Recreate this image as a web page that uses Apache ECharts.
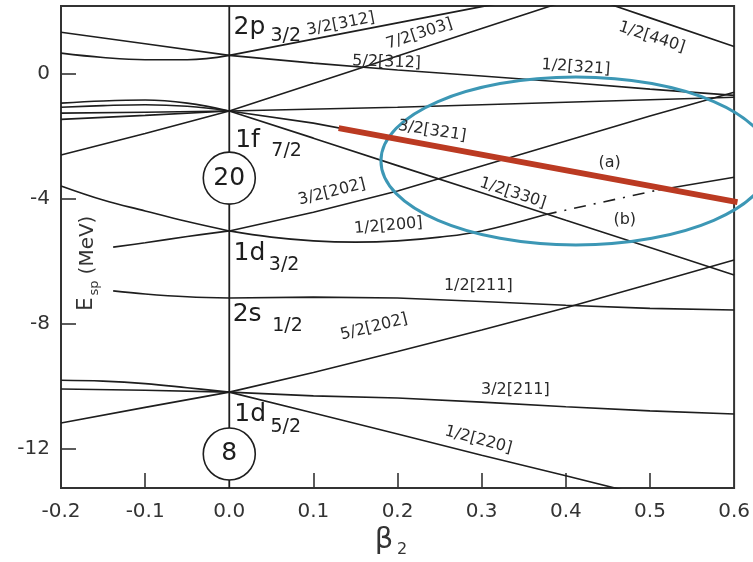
<!DOCTYPE html>
<html><head><meta charset="utf-8">
<script src="https://cdn.jsdelivr.net/npm/echarts@6/dist/echarts.min.js"></script>
<style>html,body{margin:0;padding:0;background:#fff}#c{width:753px;height:562px}</style>
</head><body><div id="c"></div>
<script>
// ---- axes ----
const BETA_MIN = -0.2, BETA_MAX = 0.6;
const E_MIN = -13.25, E_MAX = 2.18;
const xTickLabels = [-0.2, -0.1, 0.0, 0.1, 0.2, 0.3, 0.4, 0.5, 0.6];
const xInnerTicks = [-0.1, 0.1, 0.2, 0.3, 0.4, 0.5];
const yTickLabels = [-12, -8, -4, 0];

// ---- spherical levels (beta = 0) ----
const sphericalNames = ['2p', '1f', '1d', '2s', '1d'];
const sphericalSubs  = ['3/2', '7/2', '3/2', '1/2', '5/2'];
const magicNumbers = ['20', '8'];
const magicE = [-3.33, -12.16];

// ---- oblate side (beta < 0) ----
const p_obl_a = [[-0.2, 1.34], [-0.1, 0.97], [0, 0.6]];
const p_obl_b = [[-0.2, 0.67], [-0.15, 0.53], [-0.1, 0.46], [-0.05, 0.46], [0, 0.6]];
const f_obl_a = [[-0.2, -0.93], [-0.15, -0.86], [-0.1, -0.83], [-0.05, -0.93], [0, -1.18]];
const f_obl_b = [[-0.2, -1.06], [-0.15, -1.01], [-0.1, -0.98], [-0.05, -1.03], [0, -1.18]];
const f_obl_c = [[-0.2, -1.25], [-0.1, -1.22], [0, -1.18]];
const f_obl_d = [[-0.2, -1.45], [-0.1, -1.32], [0, -1.18]];
const f_obl_e = [[-0.2, -2.59], [-0.1, -1.9], [0, -1.18]];
const d3_obl_a = [[-0.138, -5.54], [-0.1, -5.4], [-0.05, -5.2], [0, -5.02]];
const d3_obl_b = [[-0.2, -3.58], [-0.15, -4.03], [-0.1, -4.38], [-0.05, -4.72], [0, -5.02]];
const s_obl = [[-0.138, -6.94], [-0.1, -7.04], [-0.05, -7.13], [0, -7.17]];
const d5_obl_a = [[-0.2, -9.8], [-0.15, -9.83], [-0.1, -9.91], [-0.05, -10.04], [0, -10.18]];
const d5_obl_b = [[-0.2, -10.08], [-0.1, -10.12], [0, -10.18]];
const d5_obl_c = [[-0.2, -11.17], [-0.1, -10.67], [0, -10.18]];

// ---- prolate side (beta > 0), Nilsson orbitals ----
const n3_2_312 = [[0, 0.6], [0.1, 1.12], [0.2, 1.64], [0.3, 2.16], [0.32, 2.26]];
const n1_2_321 = [[0, 0.6], [0.1, 0.35], [0.2, 0.13], [0.3, -0.06], [0.4, -0.26], [0.5, -0.48], [0.6, -0.68]];
const n7_2_303 = [[0, -1.18], [0.1, -0.3], [0.2, 0.58], [0.3, 1.46], [0.4, 2.34]];
const n5_2_312 = [[0, -1.18], [0.2, -1.06], [0.4, -0.9], [0.6, -0.74]];
const n3_2_321 = [[0, -1.18], [0.1, -1.57], [0.2, -2.08], [0.3, -2.59], [0.4, -3.1], [0.5, -3.58], [0.6, -4.06]];
const n1_2_330 = [[0, -1.18], [0.1, -2.05], [0.2, -2.93], [0.3, -3.8], [0.4, -4.68], [0.5, -5.55], [0.6, -6.43]];
const n1_2_440 = [[0.44, 2.35], [0.5, 1.8], [0.6, 0.88]];
const n3_2_202 = [[0, -5.02], [0.1, -4.42], [0.2, -3.74], [0.3, -2.94], [0.4, -2.14], [0.5, -1.34], [0.6, -0.58]];
const n1_2_200 = [[0, -5.02], [0.05, -5.22], [0.1, -5.34], [0.15, -5.38], [0.2, -5.34], [0.25, -5.22], [0.3, -5.02], [0.375, -4.5]];
const n1_2_200_b = [[0.375, -4.5], [0.51, -3.71]];
const n1_2_200_end = [[0.51, -3.71], [0.6, -3.3]];
const n1_2_211 = [[0, -7.17], [0.1, -7.14], [0.2, -7.17], [0.3, -7.28], [0.4, -7.4], [0.5, -7.5], [0.6, -7.55]];
const n5_2_202 = [[0, -10.18], [0.1, -9.55], [0.2, -8.88], [0.3, -8.19], [0.4, -7.48], [0.5, -6.72], [0.6, -5.95]];
const n3_2_211 = [[0, -10.18], [0.1, -10.3], [0.2, -10.37], [0.3, -10.5], [0.4, -10.65], [0.5, -10.78], [0.6, -10.88]];
const n1_2_220 = [[0, -10.18], [0.1, -10.85], [0.2, -11.52], [0.3, -12.2], [0.4, -12.86], [0.5, -13.53]];

// annotation (red highlight line)
const highlightA = [[0.13, -1.73], [0.604, -4.1]];

// ---- text annotations anchored in data coordinates ----
const nilssonText = ['3/2[312]', '7/2[303]', '1/2[440]', '1/2[321]', '5/2[312]', '3/2[321]', '3/2[202]', '1/2[330]', '1/2[200]', '1/2[211]', '5/2[202]', '3/2[211]', '1/2[220]', '(a)', '(b)'];
const nilssonAnchor = [[0.1325, 1.6], [0.226, 1.28], [0.502, 1.18], [0.412, 0.22], [0.187, 0.38], [0.241, -1.82], [0.122, -3.78], [0.337, -3.81], [0.189, -4.86], [0.296, -6.78], [0.172, -8.1], [0.34, -10.11], [0.296, -11.71], [0.452, -2.85], [0.47, -4.67]];

// curved lines get light smoothing, straight ones none
const curved = [p_obl_b, f_obl_a, f_obl_b, d3_obl_a, d3_obl_b, s_obl, d5_obl_a, n1_2_200];
const solid = [p_obl_a, p_obl_b, f_obl_a, f_obl_b, f_obl_c, f_obl_d, f_obl_e, d3_obl_a, d3_obl_b, s_obl, d5_obl_a, d5_obl_b, d5_obl_c,
  n3_2_312, n1_2_321, n7_2_303, n5_2_312, n3_2_321, n1_2_330, n1_2_440, n3_2_202, n1_2_200, n1_2_200_end, n1_2_211, n5_2_202, n3_2_211, n1_2_220];

const FONT = '"DejaVu Sans", "Liberation Sans", sans-serif';
const INK = '#1e1e1e';
const chart = echarts.init(document.getElementById('c'), null, {renderer: 'canvas'});

const series = solid.map(d => ({
  type: 'line', data: d, symbol: 'none', smooth: curved.includes(d) ? 0.4 : false,
  lineStyle: {color: INK, width: 1.6}, z: 3, silent: true
}));
series.push({type: 'line', data: n1_2_200_b, symbol: 'none',
  lineStyle: {color: INK, width: 1.6, type: [12, 8, 2, 8]}, z: 3, silent: true});
series.push({type: 'line', data: [[0, E_MIN], [0, E_MAX]], symbol: 'none',
  lineStyle: {color: INK, width: 1.8}, z: 3, silent: true});
series.push({type: 'line', data: highlightA, symbol: 'none', clip: false,
  lineStyle: {color: '#bb3a22', width: 6}, z: 10, silent: true});
series.push({type: 'scatter', data: magicE.map((e, i) => [0, e, magicNumbers[i]]),
  symbolSize: 52, itemStyle: {color: '#fff', borderColor: INK, borderWidth: 1.6, opacity: 1},
  label: {show: true, position: 'inside', formatter: p => p.value[2], fontSize: 25, color: INK, fontFamily: FONT},
  z: 6, silent: true});

chart.setOption({
  animation: false,
  backgroundColor: '#fff',
  grid: {left: 61, right: 16, top: 6, bottom: 74, show: true, borderColor: '#333', borderWidth: 2, backgroundColor: '#fff'},
  xAxis: {type: 'value', min: BETA_MIN, max: BETA_MAX, position: 'bottom',
    axisLine: {show: false, onZero: false}, splitLine: {show: false},
    axisTick: {show: true, inside: true, length: 15, customValues: xInnerTicks, lineStyle: {color: '#333', width: 1.6}},
    axisLabel: {customValues: xTickLabels, formatter: v => v.toFixed(1), fontSize: 20, color: '#333', margin: 14, fontFamily: FONT}},
  yAxis: {type: 'value', min: E_MIN, max: E_MAX, position: 'left',
    axisLine: {show: false, onZero: false}, splitLine: {show: false},
    axisTick: {show: true, inside: true, length: 15, customValues: yTickLabels, lineStyle: {color: '#333', width: 1.6}},
    axisLabel: {customValues: yTickLabels, fontSize: 20, color: '#333', margin: 11, fontFamily: FONT}},
  series: series
});

function P(b, e) { return chart.convertToPixel({gridIndex: 0}, [b, e]); }
const slopeDeg = [11, 18, -18, -4, -2, -9, 14, -18, 5, 0, 14, 0, -15, 0, 0];
const g = [];
nilssonText.forEach((t, i) => {
  const p = P(nilssonAnchor[i][0], nilssonAnchor[i][1]);
  g.push({type: 'text', x: p[0], y: p[1], rotation: slopeDeg[i] * Math.PI / 180, z: 20,
    style: {text: t, fontSize: 16, fontFamily: FONT, fill: '#2a2a2a', align: 'center', verticalAlign: 'middle'}});
});
// spherical level labels
const levelMain = [[0.005, 1.5], [0.007, -2.14], [0.005, -5.73], [0.004, -7.71], [0.006, -10.91]];
const levelSub = [[0.049, 1.22], [0.05, -2.46], [0.047, -6.11], [0.051, -8.06], [0.049, -11.3]];
sphericalNames.forEach((t, i) => {
  const a = P(levelMain[i][0], levelMain[i][1]);
  const b = P(levelSub[i][0], levelSub[i][1]);
  g.push({type: 'text', x: a[0], y: a[1], z: 20, style: {text: t, fontSize: 25, fontFamily: FONT, fill: INK, align: 'left', verticalAlign: 'middle'}});
  g.push({type: 'text', x: b[0], y: b[1], z: 20, style: {text: sphericalSubs[i], fontSize: 19, fontFamily: FONT, fill: INK, align: 'left', verticalAlign: 'middle'}});
});
// ellipse annotation
const ec = P(0.412, -2.78);
g.push({type: 'ellipse', shape: {cx: ec[0], cy: ec[1], rx: 195, ry: 84}, z: 8,
  style: {fill: 'none', stroke: '#3c97b5', lineWidth: 3}});
// axis names
g.push({type: 'text', x: 384, y: 540, z: 20, style: {text: 'β', fontSize: 29, fontFamily: FONT, fill: '#333', align: 'center', verticalAlign: 'middle'}});
g.push({type: 'text', x: 402, y: 550, z: 20, style: {text: '2', fontSize: 16, fontFamily: FONT, fill: '#333', align: 'center', verticalAlign: 'middle'}});
g.push({type: 'text', x: 87, y: 304, rotation: Math.PI / 2, z: 20, style: {text: 'E', fontSize: 21, fontFamily: FONT, fill: '#333', align: 'center', verticalAlign: 'middle'}});
g.push({type: 'text', x: 95, y: 288, rotation: Math.PI / 2, z: 20, style: {text: 'sp', fontSize: 13, fontFamily: FONT, fill: '#333', align: 'center', verticalAlign: 'middle'}});
g.push({type: 'text', x: 88, y: 245, rotation: Math.PI / 2, z: 20, style: {text: '(MeV)', fontSize: 20, fontFamily: FONT, fill: '#333', align: 'center', verticalAlign: 'middle'}});
chart.setOption({graphic: g});
</script></body></html>
